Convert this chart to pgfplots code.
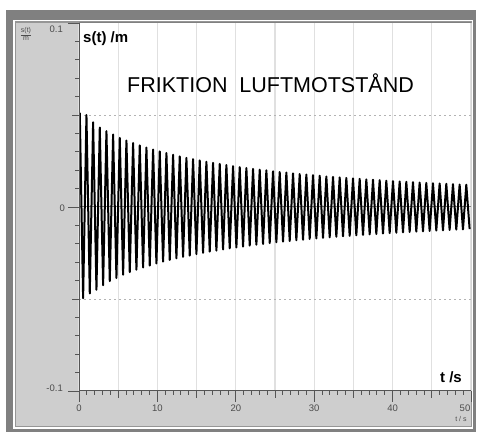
\documentclass[border=0pt]{standalone}
\usepackage{fontspec}
\setmainfont{Liberation Sans}
\usepackage{pgfplots}
\pgfplotsset{compat=1.18}
\definecolor{frame}{RGB}{128,128,128}
\definecolor{panel}{RGB}{206,206,206}
\definecolor{edge}{RGB}{150,150,150}
\definecolor{gridc}{RGB}{224,224,224}
\definecolor{axc}{RGB}{85,85,85}

\begin{document}
\begin{tikzpicture}[x=1pt,y=1pt]
\useasboundingbox (0,0) rectangle (480,435);
\fill[white] (0,0) rectangle (480,435);
\fill[frame] (6,3) rectangle (476,425);
\fill[white] (13,6) rectangle (473,415);
\fill[edge] (14.5,7.5) rectangle (472,413.5);
\fill[panel] (16,9) rectangle (471,412);

\begin{axis}[
  at={(79pt,44pt)}, anchor=south west,
  scale only axis, width=392pt, height=368pt,
  xmin=0, xmax=50, ymin=-0.1, ymax=0.1,
  axis background/.style={fill=white},
  axis line style={draw=none},
  tick align=outside, xtick pos=bottom, ytick pos=left,
  xtick={0,10,...,50}, xticklabels={},
  ytick={-0.1,0,0.1}, yticklabels={},
  minor xtick={0,1,...,50},
  minor ytick={-0.09,-0.08,-0.07,-0.06,-0.04,-0.03,-0.02,-0.01,0.01,0.02,0.03,0.04,0.06,0.07,0.08,0.09},
  major tick length=11pt, minor tick length=4pt,
  tick style={axc, line width=0.9pt},
  xmajorgrids, major grid style={gridc, line width=1.2pt},
  extra x ticks={5,15,25,35,45}, extra x tick labels={},
  extra x tick style={major tick length=7pt, grid=major},
  extra y ticks={-0.05,0.05}, extra y tick labels={},
  extra y tick style={major tick length=7pt, grid=major,
    major grid style={gridc!80!black, line width=0.9pt, dash pattern=on 2pt off 3pt}},
]
\draw[axc!75, line width=1pt] (axis cs:0,0) -- (axis cs:50,0);
\addplot[black, line width=2pt, line join=round] coordinates {
(0.000,0.0200) (0.100,0.0510) (0.525,-0.0496) (0.950,0.0500) (1.375,-0.0470) (1.800,0.0460)
(2.225,-0.0450) (2.650,0.0432) (3.075,-0.0425) (3.500,0.0412) (3.925,-0.0403) (4.350,0.0394)
(4.775,-0.0386) (5.200,0.0376) (5.625,-0.0368) (6.050,0.0361) (6.475,-0.0354) (6.900,0.0348)
(7.325,-0.0341) (7.750,0.0335) (8.175,-0.0329) (8.600,0.0323) (9.025,-0.0318) (9.450,0.0312)
(9.875,-0.0307) (10.300,0.0302) (10.725,-0.0297) (11.150,0.0293) (11.575,-0.0288) (12.000,0.0284)
(12.425,-0.0279) (12.850,0.0275) (13.275,-0.0271) (13.700,0.0267) (14.125,-0.0264) (14.550,0.0260)
(14.975,-0.0256) (15.400,0.0253) (15.825,-0.0249) (16.250,0.0246) (16.675,-0.0243) (17.100,0.0240)
(17.525,-0.0237) (17.950,0.0234) (18.375,-0.0231) (18.800,0.0228) (19.225,-0.0225) (19.650,0.0222)
(20.075,-0.0220) (20.500,0.0217) (20.925,-0.0215) (21.350,0.0212) (21.775,-0.0210) (22.200,0.0207)
(22.625,-0.0205) (23.050,0.0203) (23.475,-0.0201) (23.900,0.0199) (24.325,-0.0196) (24.750,0.0194)
(25.175,-0.0192) (25.600,0.0190) (26.025,-0.0188) (26.450,0.0187) (26.875,-0.0185) (27.300,0.0183)
(27.725,-0.0181) (28.150,0.0179) (28.575,-0.0178) (29.000,0.0176) (29.425,-0.0174) (29.850,0.0173)
(30.275,-0.0171) (30.700,0.0170) (31.125,-0.0168) (31.550,0.0166) (31.975,-0.0165) (32.400,0.0164)
(32.825,-0.0162) (33.250,0.0161) (33.675,-0.0159) (34.100,0.0158) (34.525,-0.0157) (34.950,0.0155)
(35.375,-0.0154) (35.800,0.0153) (36.225,-0.0152) (36.650,0.0150) (37.075,-0.0149) (37.500,0.0148)
(37.925,-0.0147) (38.350,0.0146) (38.775,-0.0144) (39.200,0.0143) (39.625,-0.0142) (40.050,0.0141)
(40.475,-0.0140) (40.900,0.0139) (41.325,-0.0138) (41.750,0.0137) (42.175,-0.0136) (42.600,0.0135)
(43.025,-0.0134) (43.450,0.0133) (43.875,-0.0132) (44.300,0.0131) (44.725,-0.0130) (45.150,0.0129)
(45.575,-0.0128) (46.000,0.0128) (46.425,-0.0127) (46.850,0.0126) (47.275,-0.0125) (47.700,0.0124)
(48.125,-0.0123) (48.550,0.0122) (48.975,-0.0122) (49.400,0.0121) (49.825,-0.0120)
};
\draw[gray, line width=1pt] (rel axis cs:0,1) -- (rel axis cs:1,1) -- (rel axis cs:1,0);
\draw[axc, line width=1.6pt] (rel axis cs:0,1) -- (rel axis cs:0,0) -- (rel axis cs:1,0);
\end{axis}

% texts
\node[anchor=base west, inner sep=0pt, font=\fontsize{21.5}{24}\selectfont] at (127,342) {FRIKTION\ \ LUFTMOTSTÅND};
\node[anchor=base west, inner sep=0pt, font=\bfseries\fontsize{15}{18}\selectfont] at (83,392) {s(t) /m};
\node[anchor=base east, inner sep=0pt, font=\bfseries\fontsize{15}{18}\selectfont] at (462,52) {t /s};
% tick labels
\begin{scope}[every node/.style={inner sep=0pt, text=black!70, font=\fontsize{9.5}{10}\selectfont}]
\node[anchor=base east] at (63,402) {0.1};
\node[anchor=base east] at (65,223) {0};
\node[anchor=base east] at (63,43) {-0.1};
\node[anchor=base] at (79,23) {0};
\node[anchor=base] at (157.4,23) {10};
\node[anchor=base] at (235.8,23) {20};
\node[anchor=base] at (314.2,23) {30};
\node[anchor=base] at (392.6,23) {40};
\node[anchor=base] at (465,23) {50};
\node[anchor=base, font=\fontsize{7}{8}\selectfont] at (461,13) {t / s};
\node[anchor=center, font=\fontsize{7}{7.5}\selectfont, align=center] at (26,401) {\underline{s(t)}\\[0.5pt] m};
\end{scope}
\end{tikzpicture}
\end{document}
